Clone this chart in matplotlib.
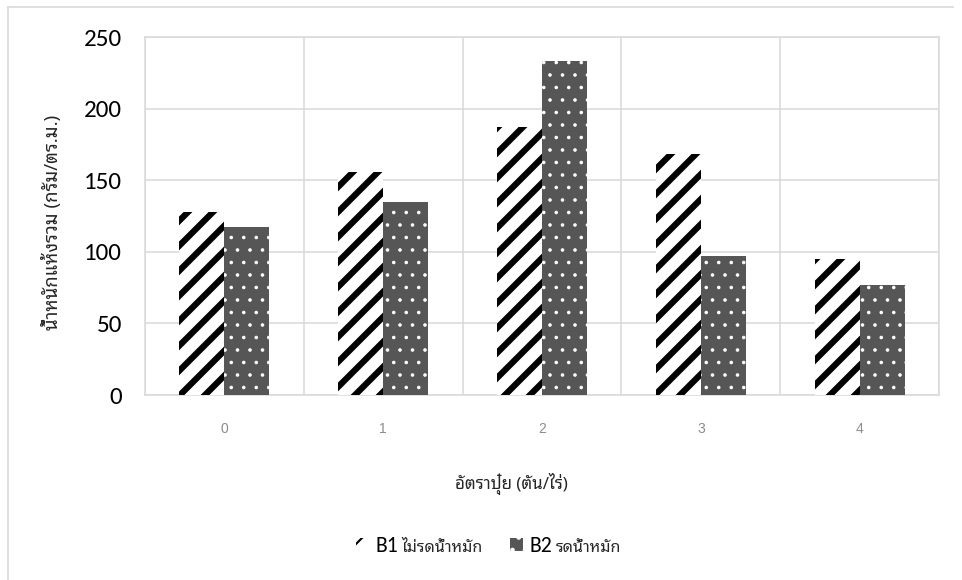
import numpy as np
import matplotlib
matplotlib.use('Agg')
import matplotlib.pyplot as plt
from matplotlib.lines import Line2D
from matplotlib.text import Annotation

# ข้อมูล: น้ำหนักแห้งรวม (กรัม/ตร.ม.) ตามอัตราปุ๋ย
rates = ['0', '1', '2', '3', '4']
b1_values = [128, 156, 187, 168, 95]   # B1 ไม่รดน้ำหมัก
b2_values = [117, 135, 233, 97, 77]    # B2 รดน้ำหมัก
yticks = [0, 50, 100, 150, 200, 250]

DPI = 150
W, H = 962, 580
grid_c = '#d9d9d9'
thai_font = ['Noto Sans Thai Looped', 'DejaVu Sans']
num_font = ['Carlito', 'Noto Sans Thai Looped']

fig = plt.figure(figsize=(W / DPI, H / DPI), dpi=DPI)
fig.patch.set_facecolor('white')

# กรอบรอบแผนภูมิ (ด้านบนและซ้าย)
fig.add_artist(Line2D([8 / W, 953 / W], [1 - 7 / H, 1 - 7 / H], transform=fig.transFigure,
                      color=grid_c, lw=0.8))
fig.add_artist(Line2D([8 / W, 8 / W], [0, 1 - 7 / H], transform=fig.transFigure,
                      color=grid_c, lw=0.8))

left, right, top, bottom = 145 / W, 939 / W, 1 - 37 / H, 1 - 395 / H
ax = fig.add_axes([left, bottom, right - left, top - bottom])

x = np.arange(len(rates))
w = 0.284

with plt.rc_context({'hatch.linewidth': 3.0}):
    bars1 = ax.bar(x - w / 2, b1_values, w, facecolor='white', edgecolor='black',
                   linewidth=0, hatch='//', label='B1', zorder=3)
with plt.rc_context({'hatch.linewidth': 0.5}):
    bars2 = ax.bar(x + w / 2, b2_values, w, facecolor='#565656', edgecolor='white',
                   linewidth=0, hatch='..', label='B2', zorder=3)

ax.set_xlim(-0.5, 4.5)
ax.set_ylim(0, 250)
ax.set_yticks(yticks)
ax.set_yticklabels([str(v) for v in yticks], family=num_font, fontsize=12, color='black')
ax.set_xticks(x)
ax.set_xticklabels(rates, family=['Liberation Sans'], fontsize=6.7, color='#8c8c8c')
ax.set_xticks(np.arange(-0.5, 5), minor=True)
ax.tick_params(axis='y', length=0, pad=11)
ax.tick_params(axis='x', which='both', length=0, pad=13)

ax.grid(axis='y', color=grid_c, lw=0.75, zorder=0)
ax.grid(axis='x', which='minor', color=grid_c, lw=0.75, zorder=0)
ax.grid(axis='x', which='major', visible=False)
for s in ax.spines.values():
    s.set_color(grid_c)
    s.set_linewidth(0.75)

ax.set_xlabel('อัตราปุ๋ย (ตัน/ไร่)', family=thai_font, fontsize=8.1, color='#262626')
ax.xaxis.set_label_coords(0.461, -0.218)
ax.set_ylabel('น้ำหนักแห้งรวม (กรัม/ตร.ม.)', family=thai_font, fontsize=8.9, color='#262626')
ax.yaxis.set_label_coords(-0.1045, 0.483)

# คำอธิบายสัญลักษณ์ด้านล่าง
leg = fig.legend(handles=[bars1, bars2], labels=['B1', 'B2'], loc='center left',
                 bbox_to_anchor=(356 / W, 1 - 546 / H), ncol=2, frameon=False,
                 borderpad=0, borderaxespad=0, handlelength=0.6, handleheight=0.55,
                 handletextpad=0.28, columnspacing=5.2,
                 prop={'family': num_font, 'size': 10.4})
for t, desc in zip(leg.get_texts(), ['ไม่รดน้ำหมัก', 'รดน้ำหมัก']):
    t.set_color('black')
    fig.add_artist(Annotation(desc, xy=(1, 0), xycoords=t, xytext=(1.5, 0),
                              textcoords='offset points', va='bottom', zorder=10,
                              family=thai_font, fontsize=7.7, color='#262626'))

fig.savefig('out.png', dpi=DPI)
